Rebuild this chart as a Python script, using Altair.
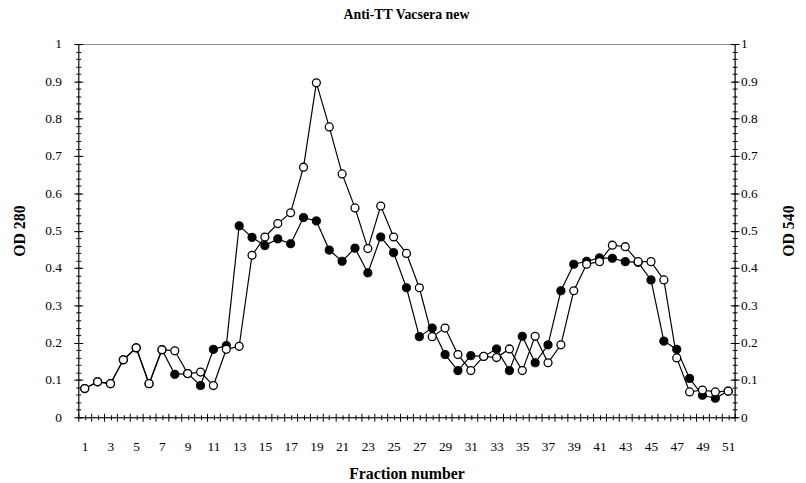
import altair as alt
import pandas as pd

# ---- data ----
fractions = list(range(1, 52))
od_open = [0.077, 0.095, 0.090, 0.154, 0.186, 0.090, 0.181, 0.178, 0.117, 0.121,
           0.085, 0.182, 0.190, 0.434, 0.483, 0.519, 0.548, 0.670, 0.896, 0.778,
           0.652, 0.561, 0.452, 0.566, 0.483, 0.439, 0.347, 0.216, 0.239, 0.168,
           0.125, 0.163, 0.160, 0.183, 0.125, 0.217, 0.146, 0.194, 0.339, 0.410,
           0.417, 0.461, 0.457, 0.417, 0.417, 0.368, 0.159, 0.068, 0.073, 0.068,
           0.070]
od_filled = [0.077, 0.095, 0.090, 0.154, 0.186, 0.090, 0.181, 0.115, 0.117, 0.085,
             0.182, 0.192, 0.513, 0.482, 0.460, 0.478, 0.465, 0.535, 0.526, 0.448,
             0.418, 0.453, 0.387, 0.483, 0.441, 0.347, 0.216, 0.239, 0.168, 0.125,
             0.165, 0.163, 0.183, 0.125, 0.217, 0.146, 0.194, 0.339, 0.410, 0.418,
             0.427, 0.426, 0.417, 0.415, 0.368, 0.204, 0.182, 0.104, 0.059, 0.051,
             0.070]
x_label_values = list(range(1, 52, 2))
x_major_ticks = [i + 0.5 for i in range(0, 52)]
x_minor_ticks = list(range(1, 52))
y_major_ticks = [round(i * 0.1, 2) for i in range(0, 11)]
y_minor_ticks = [round(i * 0.02, 2) for i in range(0, 51)]

TITLE = "Anti-TT Vacsera new"
X_TITLE = "Fraction number"
Y_LEFT = "OD 280"
Y_RIGHT = "OD 540"

FONT = "Liberation Serif"

df_open = pd.DataFrame({"fraction": fractions, "od": od_open})
df_filled = pd.DataFrame({"fraction": fractions, "od": od_filled})

xscale = alt.Scale(domain=[0.5, 51.5], nice=False, zero=False)
yscale = alt.Scale(domain=[0, 1], nice=False, zero=True)


def tick_axis(values, size, orient, inward=False):
    # outward ticks use a plain size; inward ticks use a negative size expression
    ts = {"expr": str(-size)} if inward else size
    return alt.Axis(values=values, orient=orient, labels=False, domain=False,
                    grid=False, ticks=True, tickSize=ts, tickColor="black",
                    tickWidth=1, offset=0, title="")


# tick-only axes: (x axis, y axis) pairs, ticks crossing the axis lines
tick_specs = [
    (tick_axis(x_major_ticks, 4, "bottom"), tick_axis(y_major_ticks, 4.5, "left")),
    (tick_axis(x_major_ticks, 4, "bottom", True), tick_axis(y_major_ticks, 4.5, "left", True)),
    (tick_axis(x_minor_ticks, 2.5, "bottom"), tick_axis(y_minor_ticks, 2.5, "left")),
    (tick_axis(x_minor_ticks, 2.5, "bottom", True), tick_axis(y_minor_ticks, 2.5, "left", True)),
    (None, tick_axis(y_major_ticks, 4.5, "right")),
    (None, tick_axis(y_major_ticks, 4.5, "right", True)),
    (None, tick_axis(y_minor_ticks, 2.5, "right")),
    (None, tick_axis(y_minor_ticks, 2.5, "right", True)),
]
tick_layers = [
    alt.Chart(df_open).mark_point(opacity=0).encode(
        x=alt.X("fraction:Q", scale=xscale, axis=xa),
        y=alt.Y("od:Q", scale=yscale, axis=ya),
    )
    for xa, ya in tick_specs
]

label_common = dict(labelFont=FONT, labelFontSize=13.5, labelColor="black",
                    titleFont=FONT, titleFontSize=16, titleFontWeight="bold",
                    titleColor="black", domainColor="black", domainWidth=1,
                    ticks=False, tickSize=0, grid=False)

x_axis = alt.Axis(values=x_label_values, orient="bottom", title=X_TITLE,
                  labelPadding=23, titlePadding=12, labelFlush=False,
                  **label_common)
yl_axis = alt.Axis(values=y_major_ticks, orient="left", title=Y_LEFT, format=".1~f",
                   labelPadding=17, titlePadding=17, **label_common)
yr_axis = alt.Axis(values=y_major_ticks, orient="right", title=Y_RIGHT, format=".1~f",
                   labelPadding=6, titlePadding=40, titleAngle=270, **label_common)

filled_line = alt.Chart(df_filled).mark_line(color="black", strokeWidth=1.2).encode(
    x=alt.X("fraction:Q", scale=xscale, axis=x_axis),
    y=alt.Y("od:Q", scale=yscale, axis=yl_axis),
)
filled_pts = alt.Chart(df_filled).mark_point(
    shape="circle", filled=True, color="black", size=68, opacity=1,
    stroke="black", strokeWidth=1).encode(
    x=alt.X("fraction:Q", scale=xscale, axis=None),
    y=alt.Y("od:Q", scale=yscale, axis=None),
)
open_line = alt.Chart(df_open).mark_line(color="black", strokeWidth=1.2).encode(
    x=alt.X("fraction:Q", scale=xscale, axis=None),
    y=alt.Y("od:Q", scale=yscale, axis=yr_axis),
)
open_pts = alt.Chart(df_open).mark_point(
    shape="circle", filled=True, fill="white", stroke="black", size=64,
    strokeWidth=1.3, opacity=1).encode(
    x=alt.X("fraction:Q", scale=xscale, axis=None),
    y=alt.Y("od:Q", scale=yscale, axis=None),
)

chart = alt.layer(
    *tick_layers,
    filled_line, filled_pts, open_line, open_pts,
).resolve_axis(x="independent", y="independent").properties(
    width=663,
    height=377,
    autosize=alt.AutoSizeParams(type="none"),
    padding={"left": 71, "top": 34, "right": 64, "bottom": 64},
    title=alt.TitleParams(TITLE, font=FONT, fontSize=14, fontWeight="bold",
                          color="black", anchor="middle", offset=15),
).configure_view(stroke="#8c8c8c", strokeWidth=1)

chart.save("out.html", embed_options={"renderer": "svg", "actions": False})
